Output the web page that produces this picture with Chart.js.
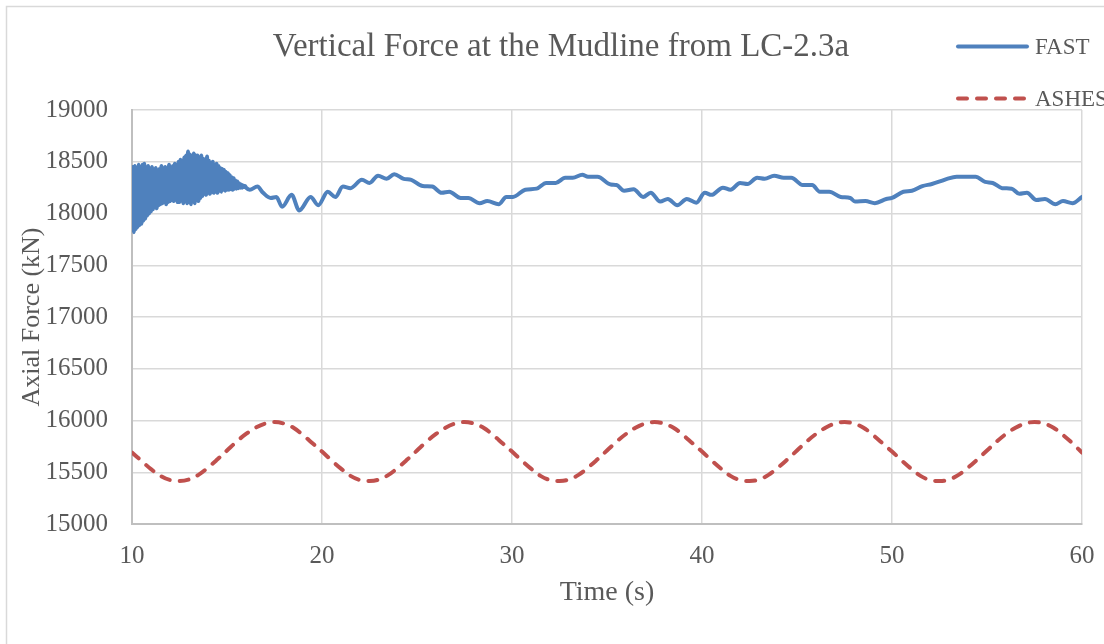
<!DOCTYPE html>
<html>
<head>
<meta charset="utf-8">
<script src="https://cdn.jsdelivr.net/npm/chart.js@4/dist/chart.umd.min.js"></script>
<style>
  html, body { margin: 0; padding: 0; background: #ffffff; }
  #wrap { width: 1104px; height: 644px; position: relative; }
</style>
</head>
<body>
<div id="wrap"><canvas id="chart"></canvas></div>
<script>
// Time axis ticks and value axis ticks
const timeTicks = [10, 20, 30, 40, 50, 60];
const forceTicks = [15000, 15500, 16000, 16500, 17000, 17500, 18000, 18500, 19000];

// FAST: vertical force at the mudline (kN) vs time (s)
const timeFast = [
  10.00, 10.05, 10.10, 10.15, 10.20, 10.25, 10.30, 10.35, 10.40, 10.45,
  10.50, 10.55, 10.60, 10.65, 10.70, 10.75, 10.80, 10.85, 10.90, 10.95,
  11.00, 11.05, 11.10, 11.15, 11.20, 11.25, 11.30, 11.35, 11.40, 11.45,
  11.50, 11.55, 11.60, 11.65, 11.70, 11.75, 11.80, 11.85, 11.90, 11.95,
  12.00, 12.05, 12.10, 12.15, 12.20, 12.25, 12.30, 12.35, 12.40, 12.45,
  12.50, 12.55, 12.60, 12.65, 12.70, 12.75, 12.80, 12.85, 12.90, 12.95,
  13.00, 13.05, 13.10, 13.15, 13.20, 13.25, 13.30, 13.35, 13.40, 13.45,
  13.50, 13.55, 13.60, 13.65, 13.70, 13.75, 13.80, 13.85, 13.90, 13.95,
  14.00, 14.05, 14.10, 14.15, 14.20, 14.25, 14.30, 14.35, 14.40, 14.45,
  14.50, 14.55, 14.60, 14.65, 14.70, 14.75, 14.80, 14.85, 14.90, 14.95,
  15.00, 15.05, 15.10, 15.15, 15.20, 15.25, 15.30, 15.35, 15.40, 15.45,
  15.50, 15.55, 15.60, 15.65, 15.70, 15.75, 15.80, 15.85, 15.90, 15.95,
  16.0, 16.2, 16.6, 16.9, 17.3, 17.6, 17.9, 18.4, 18.8, 19.4,
  19.8, 20.3, 20.7, 21.1, 21.5, 22.1, 22.5, 22.95, 23.4, 23.8,
  24.3, 24.7, 25.3, 25.8, 26.3, 26.7, 27.3, 27.7, 28.3, 28.7,
  29.3, 29.7, 30.05, 30.7, 31.3, 31.8, 32.3, 32.8, 33.2, 33.7,
  34.0, 34.5, 35.2, 35.5, 35.9, 36.4, 36.9, 37.3, 37.8, 38.2,
  38.7, 39.2, 39.7, 40.15, 40.5, 41.1, 41.5, 42.0, 42.4, 42.9,
  43.3, 43.8, 44.3, 44.7, 45.3, 45.8, 46.2, 46.7, 47.3, 47.8,
  48.05, 48.6, 49.1, 49.7, 50.0, 50.6, 51.05, 51.6, 52.1, 52.6,
  52.9, 53.4, 54.4, 54.9, 55.3, 55.8, 56.3, 56.7, 57.1, 57.6,
  58.05, 58.6, 59.0, 59.5, 60.0
];
const forceFast = [
  18150, 18450, 17820, 18460, 17850, 18440, 17870, 18470, 17890, 18450,
  17900, 18470, 17930, 18480, 17950, 18440, 17980, 18460, 18000, 18420,
  18020, 18450, 18040, 18410, 18060, 18440, 18050, 18400, 18080, 18430,
  18090, 18460, 18100, 18420, 18110, 18450, 18090, 18430, 18110, 18470,
  18120, 18440, 18130, 18460, 18120, 18480, 18140, 18450, 18110, 18500,
  18110, 18520, 18130, 18500, 18100, 18540, 18120, 18560, 18100, 18600,
  18110, 18570, 18090, 18550, 18120, 18580, 18100, 18560, 18130, 18560,
  18120, 18540, 18150, 18560, 18170, 18530, 18190, 18520, 18180, 18550,
  18200, 18510, 18190, 18490, 18210, 18500, 18200, 18470, 18210, 18480,
  18200, 18460, 18220, 18440, 18210, 18430, 18230, 18420, 18220, 18400,
  18230, 18390, 18230, 18370, 18235, 18350, 18230, 18340, 18240, 18320,
  18240, 18310, 18245, 18290, 18250, 18280, 18250, 18270, 18255, 18265,
  18250, 18230, 18260, 18200, 18150, 18160, 18065, 18180, 18030, 18160,
  18080, 18210, 18160, 18260, 18245, 18325, 18295, 18365, 18335, 18380,
  18335, 18325, 18265, 18260, 18200, 18210, 18150, 18150, 18100, 18120,
  18090, 18160, 18160, 18230, 18240, 18295, 18295, 18345, 18345, 18375,
  18355, 18355, 18280, 18275, 18220, 18235, 18160, 18200, 18115, 18140,
  18080, 18140, 18105, 18200, 18180, 18250, 18230, 18295, 18285, 18345,
  18335, 18365, 18345, 18345, 18275, 18275, 18210, 18210, 18160, 18150,
  18115, 18120, 18100, 18140, 18150, 18210, 18220, 18265, 18285, 18315,
  18335, 18355, 18355, 18305, 18295, 18245, 18240, 18190, 18200, 18130,
  18140, 18090, 18120, 18100, 18160
];

// ASHES: vertical force at the mudline (kN), sampled every 0.5 s from 10 s to 60 s
const timeAshes = [
  10.0, 10.5, 11.0, 11.5, 12.0, 12.5, 13.0, 13.5, 14.0, 14.5,
  15.0, 15.5, 16.0, 16.5, 17.0, 17.5, 18.0, 18.5, 19.0, 19.5,
  20.0, 20.5, 21.0, 21.5, 22.0, 22.5, 23.0, 23.5, 24.0, 24.5,
  25.0, 25.5, 26.0, 26.5, 27.0, 27.5, 28.0, 28.5, 29.0, 29.5,
  30.0, 30.5, 31.0, 31.5, 32.0, 32.5, 33.0, 33.5, 34.0, 34.5,
  35.0, 35.5, 36.0, 36.5, 37.0, 37.5, 38.0, 38.5, 39.0, 39.5,
  40.0, 40.5, 41.0, 41.5, 42.0, 42.5, 43.0, 43.5, 44.0, 44.5,
  45.0, 45.5, 46.0, 46.5, 47.0, 47.5, 48.0, 48.5, 49.0, 49.5,
  50.0, 50.5, 51.0, 51.5, 52.0, 52.5, 53.0, 53.5, 54.0, 54.5,
  55.0, 55.5, 56.0, 56.5, 57.0, 57.5, 58.0, 58.5, 59.0, 59.5,
  60.0
];
const forceAshes = [
  15690, 15610, 15530, 15465, 15425, 15415, 15430, 15475, 15545, 15625,
  15710, 15795, 15870, 15930, 15970, 15985, 15970, 15930, 15860, 15780,
  15700, 15615, 15535, 15465, 15425, 15415, 15430, 15475, 15545, 15625,
  15710, 15795, 15870, 15930, 15970, 15985, 15970, 15930, 15860, 15780,
  15700, 15615, 15535, 15465, 15425, 15415, 15430, 15475, 15545, 15625,
  15710, 15795, 15870, 15930, 15970, 15985, 15970, 15930, 15860, 15780,
  15700, 15615, 15535, 15465, 15425, 15415, 15430, 15475, 15545, 15625,
  15710, 15795, 15870, 15930, 15970, 15985, 15970, 15930, 15860, 15780,
  15700, 15615, 15535, 15465, 15425, 15415, 15430, 15475, 15545, 15625,
  15710, 15795, 15870, 15930, 15970, 15985, 15970, 15930, 15860, 15780,
  15690
];

const seriesNames = ['FAST', 'ASHES'];
const titleText = 'Vertical Force at the Mudline from LC-2.3a';
const xTitle = 'Time (s)';
const yTitle = 'Axial Force (kN)';

const FONT = "'Liberation Serif', 'Times New Roman', serif";
const TEXT = '#595959';
const GRID = '#D9D9D9';
const AXIS = '#BFBFBF';

const toPoints = (xs, ys) => xs.map((x, i) => ({ x: x, y: ys[i] }));

// Outer chart frame and white background
const framePlugin = {
  id: 'frame',
  beforeDraw(chart) {
    const ctx = chart.ctx;
    ctx.save();
    ctx.fillStyle = '#ffffff';
    ctx.fillRect(0, 0, chart.width, chart.height);
    ctx.strokeStyle = GRID;
    ctx.lineWidth = 1.5;
    ctx.beginPath();
    ctx.moveTo(6.5, chart.height + 5);
    ctx.lineTo(6.5, 6.5);
    ctx.lineTo(chart.width + 5, 6.5);
    ctx.stroke();
    ctx.restore();
  }
};

// Chart title, centred over the space left of the legend
const titlePlugin = {
  id: 'chartTitle',
  afterDraw(chart) {
    const ctx = chart.ctx;
    ctx.save();
    ctx.fillStyle = TEXT;
    ctx.font = "33px " + FONT;
    ctx.textAlign = 'center';
    ctx.textBaseline = 'middle';
    ctx.fillText(titleText, 561, 47);
    ctx.restore();
  }
};

// Stacked legend in the top-right corner, drawn from the dataset styles
const sideLegend = {
  id: 'sideLegend',
  afterDraw(chart) {
    const ctx = chart.ctx;
    const x0 = 958, x1 = 1027, tx = 1035;
    const rows = [46.5, 98.5];
    ctx.save();
    chart.data.datasets.forEach((ds, i) => {
      const y = rows[i];
      ctx.strokeStyle = ds.borderColor;
      ctx.lineWidth = ds.borderWidth;
      ctx.lineCap = 'round';
      ctx.setLineDash(ds.borderDash || []);
      ctx.beginPath();
      ctx.moveTo(x0, y);
      ctx.lineTo(x1, y);
      ctx.stroke();
      ctx.setLineDash([]);
      ctx.fillStyle = TEXT;
      ctx.font = "23px " + FONT;
      ctx.textBaseline = 'middle';
      ctx.textAlign = 'left';
      ctx.fillText(ds.label, tx, y + 1);
    });
    ctx.restore();
  }
};

new Chart(document.getElementById('chart'), {
  type: 'line',
  data: {
    datasets: [
      {
        label: seriesNames[0],
        data: toPoints(timeFast, forceFast),
        borderColor: '#4F81BD',
        backgroundColor: '#4F81BD',
        borderWidth: 4,
        borderJoinStyle: 'round',
        borderCapStyle: 'round',
        pointRadius: 0,
        cubicInterpolationMode: 'monotone',
        fill: false
      },
      {
        label: seriesNames[1],
        data: toPoints(timeAshes, forceAshes),
        borderColor: '#C0504D',
        backgroundColor: '#C0504D',
        borderWidth: 4,
        borderDash: [9, 10],
        borderCapStyle: 'round',
        borderJoinStyle: 'round',
        pointRadius: 0,
        tension: 0.4,
        fill: false
      }
    ]
  },
  options: {
    responsive: true,
    maintainAspectRatio: false,
    animation: false,
    layout: { padding: { left: 0, right: 22, top: 110, bottom: 0 } },
    plugins: {
      legend: { display: false },
      tooltip: { enabled: false },
      title: { display: false }
    },
    scales: {
      x: {
        type: 'linear',
        min: timeTicks[0],
        max: timeTicks[timeTicks.length - 1],
        afterBuildTicks(scale) { scale.ticks = timeTicks.map(v => ({ value: v })); },
        afterFit(scale) { scale.height = 120; scale.paddingRight = 0; },
        grid: { color: GRID, lineWidth: 1.5, drawTicks: false },
        border: { color: AXIS, width: 2 },
        ticks: {
          color: TEXT, font: { family: FONT, size: 25 }, padding: 17, maxRotation: 0,
          callback: v => String(v)
        },
        title: {
          display: true,
          text: xTitle,
          color: TEXT,
          font: { family: FONT, size: 28 },
          padding: { top: 0, bottom: 35 }
        }
      },
      y: {
        type: 'linear',
        min: forceTicks[0],
        max: forceTicks[forceTicks.length - 1],
        afterBuildTicks(scale) { scale.ticks = forceTicks.map(v => ({ value: v })); },
        afterFit(scale) { scale.width = 132; },
        grid: { color: GRID, lineWidth: 1.5, drawTicks: false },
        border: { color: AXIS, width: 2 },
        ticks: {
          color: TEXT, font: { family: FONT, size: 25 }, padding: 24,
          callback: v => String(v)
        },
        title: {
          display: true,
          text: yTitle,
          color: TEXT,
          font: { family: FONT, size: 26 },
          padding: { top: 17, bottom: 0 }
        }
      }
    }
  },
  plugins: [framePlugin, titlePlugin, sideLegend]
});
</script>
</body>
</html>
